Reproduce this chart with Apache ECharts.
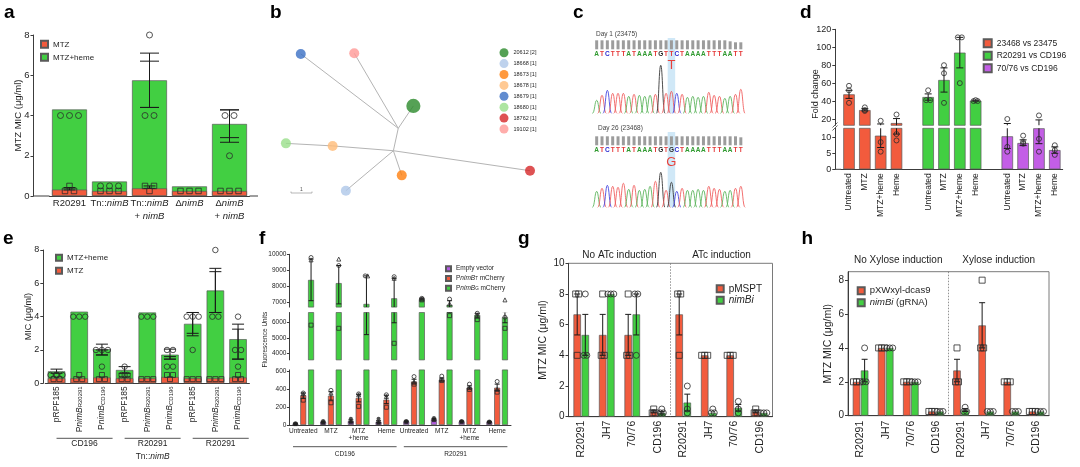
<!DOCTYPE html>
<html>
<head>
<meta charset="utf-8">
<script src="https://cdn.jsdelivr.net/npm/echarts@6.0.0/dist/echarts.min.js"></script>
<style>
html,body{margin:0;padding:0;background:#fff;}
#chart{width:1080px;height:467px;}
</style>
</head>
<body>
<div id="chart"></div>
<script>
// ===================== DATA =====================
// ---- panel a ----
const aCategories = ['R20291', 'Tn::nimB', 'Tn::nimB\n+ nimB', 'ΔnimB', 'ΔnimB\n+ nimB'];
const aMtzHeme = [4.3, 0.72, 5.75, 0.48, 3.58];
const aMtz = [0.32, 0.25, 0.38, 0.25, 0.25];
const aMtzHemePoints = [[4, 4, 4], [0.5, 0.5, 0.5], [8, 4, 4], [], [4, 4, 2]];
const aMtzPoints = [[0.5, 0.25, 0.25], [0.25, 0.25, 0.25], [0.5, 0.5, 0.25], [0.25, 0.25, 0.25], [0.25, 0.25, 0.25]];
const aMtzHemeErr = [null, null, [4.4, 7.1], null, [2.67, 4.28]];
const aMtzHemeErr2 = [null, null, [4.4, 6.7], null, [2.9, 4.28]];
const aMtzErr = [[0.3, 0.42], null, [0.38, 0.5], null, null];

// ---- panel b ----
const bNodes = ['20612 [2]', '18668 [1]', '18673 [1]', '18678 [1]', '18679 [1]', '18680 [1]', '18762 [1]', '19102 [1]'];
const bIsolates = [2, 1, 1, 1, 1, 1, 1, 1];
const bNodeX = [53.1, 28.1, 48.8, 23.2, 11.4, 5.9, 96.3, 31.2];
const bNodeY = [58.8, 5.8, 15.4, 33.8, 91.3, 35.4, 18.3, 91.7];
const bNodeColors = ['#2b8a2b', '#aec7e8', '#ff7f0e', '#ffbb78', '#3a6fc4', '#98df8a', '#d62728', '#ff9896'];
const bJunctions = ['J1', 'J2'];
const bJunctionX = [47.5, 45.7];
const bJunctionY = [44.8, 30.8];
const bEdges = [['18679 [1]', 'J1'], ['19102 [1]', 'J1'], ['20612 [2]', 'J1'], ['J1', 'J2'],
  ['18680 [1]', '18678 [1]'], ['18678 [1]', 'J2'], ['J2', '18762 [1]'], ['J2', '18673 [1]'], ['J2', '18668 [1]']];

// ---- panel c ----
const cSeqTop = 'ATCTTTATAAATGTTCTAAAATTTAATT';
const cSeqBottom = 'ATCTTTATAAATGTGCTAAAATTTAATT';
const cPeaksTop = [13, 18, 23, 20, 20, 20, 17, 19, 18, 17, 18, 19, 48, 20, 22, 20, 19, 16, 17, 16, 17, 21, 18, 17, 15, 17, 19, 24];
const cPeaksBottom = [16, 19, 22, 21, 20, 24, 18, 22, 17, 18, 21, 26, 35, 17, 25, 16, 19, 17, 17, 18, 17, 21, 19, 18, 16, 17, 19, 21];
const cQualTop = [9, 9, 9, 9, 9, 9, 9, 9, 9, 9, 9, 9, 9, 9, 9, 9, 9, 9, 9, 9, 9, 9, 9, 9, 9, 8, 7, 7];
const cQualBottom = [9, 9, 9, 9, 9, 9, 9, 9, 9, 9, 9, 9, 9, 9, 9, 9, 9, 9, 9, 9, 9, 9, 9, 9, 9, 9, 9, 8];
const cLabels = ['Day 1 (23475)', 'Day 26 (23468)'];

// ---- panel d ----
const dConditions = ['Untreated', 'MTZ', 'MTZ+heme', 'Heme'];
const dComparisons = ['23468 vs 23475', 'R20291 vs CD196', '70/76 vs CD196'];
const dValues = [[47.5, 30, 10.5, 15.5], [44.5, 63.5, 94, 40.5], [10.3, 8.2, 12.8, 6]];
const dPoints = [
  [[57, 52, 38], [33, 30, 29], [18, 8.5, 5.5], [25, 11, 9]],
  [[52, 41, 41], [80, 71, 38], [111, 111, 60], [41, 40, 40]],
  [[20, 7, 5.5], [10.5, 8.5, 8], [24, 9.5, 5.5], [7.5, 6, 4.5]]];
const dErr = [
  [[43, 52], [29, 31.5], [6.8, 14.5], [11, 20.5]],
  [[41, 48], [50, 77], [77, 111], [40, 41]],
  [[6.5, 15], [7.4, 9.2], [8, 19], [5, 7]]];

// ---- panel e ----
const eCategories = ['pRPF185', 'PnimB_R20291', 'PnimB_CD196', 'pRPF185', 'PnimB_R20291', 'PnimB_CD196', 'pRPF185', 'PnimB_R20291', 'PnimB_CD196'];
const eGroups = ['CD196', 'R20291\nTn::nimB', 'R20291'];
const eMtzHeme = [0.72, 4.3, 2.05, 0.8, 4.25, 1.72, 3.57, 5.57, 2.65];
const eMtz = [0.3, 0.3, 0.35, 0.3, 0.3, 0.38, 0.3, 0.3, 0.35];
const eMtzHemePoints = [[0.5, 0.5, 0.5], [4, 4, 4], [2, 2, 2, 1], [1, 0.5, 0.5], [4, 4, 4], [2, 2, 1, 1], [4, 4, 4, 2], [8, 4, 4], [4, 2, 2, 1]];
const eMtzPoints = [[0.5, 0.25, 0.25], [0.5, 0.25, 0.25], [0.5, 0.25, 0.25], [0.5, 0.25, 0.25], [0.25, 0.25, 0.25], [0.5, 0.5, 0.25], [0.25, 0.25, 0.25], [0.25, 0.25, 0.25], [0.5, 0.25, 0.25]];
const eMtzHemeErr = [[0.6, 0.85], null, [1.7, 2.35], [0.6, 1.0], null, [1.45, 2.05], [2.85, 4.25], [4.25, 6.9], [1.45, 3.55]];
const eMtzHemeErr2 = [null, null, [1.7, 2.0], null, null, [1.45, 1.6], [3.0, 4.25], [4.25, 6.7], [1.45, 3.25]];

// ---- panel f ----
const fCategories = ['Untreated', 'MTZ', 'MTZ\n+heme', 'Heme', 'Untreated', 'MTZ', 'MTZ\n+heme', 'Heme'];
const fGroups = ['CD196', 'R20291'];
const fSeriesNames = ['Empty vector', 'PnimBT', 'PnimBG'];
const fEmpty = [15, 35, 45, 35, 40, 65, 40, 35];
const fPnimBT = [335, 330, 305, 285, 490, 510, 420, 420];
const fPnimBG = [8400, 8200, 6900, 7250, 7200, 6850, 6450, 6300];
const fEmptyPoints = [[20, 15, 10], [45, 35, 25], [70, 45, 30], [70, 35, 25], [45, 40, 35], [80, 65, 55], [45, 40, 35], [40, 35, 30]];
const fPnimBTPoints = [[360, 350, 280], [390, 360, 250], [350, 340, 210], [340, 320, 200], [545, 480, 460], [550, 510, 500], [460, 420, 400], [490, 400, 370]];
const fPnimBGPoints = [[9800, 9650, 5800], [9300, 9700, 5600], [8650, 8650, 3500], [8600, 8500, 4650], [7250, 7200, 7150], [7200, 6900, 6400], [6550, 6450, 6150], [6300, 7150, 5600]];
const fEmptyErr = [[10, 20], [25, 42], [32, 58], [25, 48], [35, 45], [55, 75], [35, 45], [30, 40]];
const fPnimBTErr = [[300, 360], [280, 375], [260, 345], [240, 335], [470, 515], [495, 530], [405, 440], [390, 460]];
const fPnimBGErr = [[7100, 9700], [6900, 9300], [5200, 8650], [5950, 8500], [7150, 7250], [6600, 7100], [6250, 6550], [5950, 6650]];

// ---- panel g ----
const gCategories = ['R20291', 'JH7', '70/76', 'CD196', 'R20291', 'JH7', '70/76', 'CD196'];
const gHeaders = ['No ATc induction', 'ATc induction'];
const gPMSPT = [6.67, 5.33, 5.33, 0.33, 6.67, 4, 4, 0.33];
const gNimBi = [5.33, 8, 6.67, 0.25, 0.92, 0.25, 0.58, 0.25];
const gPMSPTPoints = [[8, 8, 4], [8, 4, 4], [8, 4, 4], [0.5, 0.25, 0.25], [8, 8, 4], [4, 4, 4], [4, 4, 4], [0.5, 0.25, 0.25]];
const gNimBiPoints = [[8, 4, 4], [8, 8, 8], [8, 8, 4], [0.5, 0.25, 0.25], [2, 0.5, 0.25], [0.5, 0.25, 0.25], [1, 0.5, 0.25], [0.25, 0.25, 0.25]];
const gPMSPTErr = [[5.33, 8], [4, 6.67], [4, 6.67], [0.25, 0.42], [5.33, 8], null, null, [0.25, 0.42]];
const gNimBiErr = [[4, 6.67], null, [5.33, 8], [0.17, 0.33], [0.37, 1.47], null, [0.36, 0.8], null];

// ---- panel h ----
const hCategories = ['R20291', 'JH7', '70/76', 'CD196', 'R20291', 'JH7', '70/76', 'CD196'];
const hHeaders = ['No Xylose induction', 'Xylose induction'];
const hDcas9 = [2, 4, 2, 0.25, 2.67, 5.33, 2, 0.25];
const hNimBi = [2.67, 4, 2, 0.25, 0.33, 0.25, 0.25, 0.25];
const hDcas9Points = [[2, 2, 2], [4, 4, 4], [2, 2, 2], [0.25, 0.25, 0.25], [4, 2, 2], [8, 4, 4], [2, 2, 2], [0.25, 0.25, 0.25]];
const hNimBiPoints = [[4, 2, 2], [4, 4, 4], [2, 2, 2], [0.25, 0.25, 0.25], [0.5, 0.25, 0.25], [0.25, 0.25, 0.25], [0.25, 0.25, 0.25], [0.25, 0.25, 0.25]];
const hDcas9Err = [null, null, null, null, [2, 3.33], [4, 6.67], null, null];
const hNimBiErr = [[2, 3.33], null, null, null, [0.25, 0.42], null, null, null];

// ===================== BUILD =====================
const FF = '"Liberation Sans", Arial, Helvetica, sans-serif';
const RED = '#f25b3d', GREEN = '#42cf42', PURPLE = '#c35ee6', FPURPLE = '#b25be0';
const AXC = '#3c3c3c', TXT = '#1e1e1e';

const option = {animation: false, backgroundColor: '#ffffff', textStyle: {fontFamily: FF},
  grid: [], xAxis: [], yAxis: [], series: [], legend: []};

function addGrid(rect, x, y) {
  const i = option.grid.length;
  option.grid.push(Object.assign({containLabel: false, outerBoundsMode: 'none'}, rect));
  x.gridIndex = i; y.gridIndex = i;
  option.xAxis.push(x); option.yAxis.push(y);
  return i;
}
function valueY(o) {
  const y = {type: 'value', min: o.min, max: o.max, offset: o.offset || 0, splitLine: {show: false},
    axisLine: {show: true, onZero: false, lineStyle: {color: AXC, width: 1}},
    axisTick: {show: true, length: o.tick || 3, lineStyle: {color: AXC, width: 1}},
    axisLabel: {fontSize: o.fs, color: TXT, margin: o.margin || 4, formatter: v => String(v)}};
  if (o.interval) y.interval = o.interval;
  if (o.ticks) { y.axisLabel.customValues = o.ticks; y.axisTick.customValues = o.ticks; }
  if (o.name) Object.assign(y, {name: o.name, nameLocation: 'middle', nameGap: o.nameGap, nameMoveOverlap: false,
    nameTextStyle: {fontSize: o.nameFs || o.fs, color: TXT}});
  return y;
}
function catX(data, o) {
  o = o || {};
  return {type: 'category', data, show: o.show !== false, boundaryGap: true,
    axisLine: {show: o.line !== false, onZero: false, lineStyle: {color: AXC, width: 1}},
    axisTick: {show: false}, splitLine: {show: false},
    axisLabel: Object.assign({interval: 0, color: TXT}, o.label || {})};
}
function hiddenValue(min, max) { return {type: 'value', min, max, show: false, splitLine: {show: false}}; }
function barS(gi, name, data, color, width, extra) {
  return Object.assign({type: 'bar', name, xAxisIndex: gi, yAxisIndex: gi, data, barWidth: width, silent: true,
    itemStyle: {color, borderColor: '#5a5a5a', borderWidth: 0.7}}, extra || {});
}
function errS(gi, errs, offset, cap) {
  const data = [];
  errs.forEach((e, i) => { if (e) data.push([i, e[0], e[1]]); });
  return {type: 'custom', xAxisIndex: gi, yAxisIndex: gi, data, clip: true, silent: true, z: 5,
    encode: {x: 0, y: [1, 2]},
    renderItem(params, api) {
      const lo = api.coord([api.value(0), api.value(1)]);
      const hi = api.coord([api.value(0), api.value(2)]);
      const x = lo[0] + offset, h = cap / 2;
      const st = {stroke: '#1a1a1a', lineWidth: 1};
      return {type: 'group', children: [
        {type: 'line', shape: {x1: x, y1: lo[1], x2: x, y2: hi[1]}, style: st},
        {type: 'line', shape: {x1: x - h, y1: lo[1], x2: x + h, y2: lo[1]}, style: st},
        {type: 'line', shape: {x1: x - h, y1: hi[1], x2: x + h, y2: hi[1]}, style: st}]};
    }};
}
function ptsS(gi, pts, symbols, size, offset, spread, itemStyle) {
  const data = [];
  pts.forEach((arr, i) => {
    if (!arr) return;
    const count = {}, seen = {};
    arr.forEach(v => { count[v] = (count[v] || 0) + 1; });
    arr.forEach((v, k) => {
      const j = seen[v] = (seen[v] || 0) + 1;
      const dx = offset + (j - 1 - (count[v] - 1) / 2) * spread;
      data.push({value: [i, v], symbol: symbols[k % symbols.length], symbolOffset: [dx, 0]});
    });
  });
  return {type: 'scatter', xAxisIndex: gi, yAxisIndex: gi, data, symbolSize: size, silent: true, clip: true, z: 6,
    itemStyle: itemStyle || {color: 'rgba(0,0,0,0)', borderColor: '#2a2a2a', borderWidth: 1}};
}
function legendC(names, o) {
  const l = {data: names, orient: 'vertical', left: o.left, top: o.top, padding: 0, itemGap: o.gap,
    itemWidth: o.w, itemHeight: o.h, icon: o.icon || 'rect', selectedMode: false,
    textStyle: {fontSize: o.fs, color: TXT, lineHeight: o.lh || o.h, rich: o.rich || {}}};
  if (o.formatter) l.formatter = o.formatter;
  option.legend.push(l);
}
function slots(vals, g, fill) {
  const a = new Array(14).fill(fill);
  vals.forEach((v, k) => { a[g * 5 + k] = v; });
  return a;
}

// ---------- a ----------
const gA = addGrid({left: 49.5, top: 35, width: 200, height: 161},
  catX(aCategories, {label: {fontSize: 9.5, lineHeight: 12.5, margin: 1.5,
    formatter: v => v.replace(/nimB/g, '{i|nimB}'),
    rich: {i: {fontStyle: 'italic', fontSize: 9.5, lineHeight: 12.5, color: TXT}}}}),
  valueY({min: 0, max: 8, interval: 2, fs: 9.5, offset: 16, margin: 4, name: 'MTZ MIC (μg/ml)', nameGap: 10.5}));
option.series.push(
  barS(gA, 'MTZ+heme', aMtzHeme, GREEN, 35, {barGap: '-100%'}),
  barS(gA, 'MTZ', aMtz, RED, 35, {barGap: '-100%'}),
  errS(gA, aMtzHemeErr, 0, 19), errS(gA, aMtzHemeErr2, 0, 19), errS(gA, aMtzErr, 0, 12),
  ptsS(gA, aMtzHemePoints, ['circle'], 6, 0, 9),
  ptsS(gA, aMtzPoints, ['rect'], 5.5, 0, 9));
legendC(['MTZ', 'MTZ+heme'], {left: 40, top: 39.8, gap: 4, w: 7, h: 7, fs: 8});

// ---------- b ----------
const gB = addGrid({left: 270, top: 40, width: 270, height: 160}, hiddenValue(0, 100), hiddenValue(0, 100));
const bPos = {};
bNodes.forEach((n, i) => { bPos[n] = [bNodeX[i], bNodeY[i]]; });
bJunctions.forEach((n, i) => { bPos[n] = [bJunctionX[i], bJunctionY[i]]; });
option.series.push({type: 'lines', coordinateSystem: 'cartesian2d', xAxisIndex: gB, yAxisIndex: gB, silent: true, z: 2,
  lineStyle: {color: '#b4b4b4', width: 1, opacity: 1},
  data: bEdges.map(e => ({coords: [bPos[e[0]], bPos[e[1]]]}))});
bNodes.forEach((n, i) => {
  option.series.push({type: 'scatter', name: n, xAxisIndex: gB, yAxisIndex: gB, silent: true, z: 4,
    data: [[bNodeX[i], bNodeY[i]]], symbolSize: 10 * Math.sqrt(bIsolates[i]), itemStyle: {color: bNodeColors[i]}});
});
legendC(bNodes, {left: 499.5, top: 48.2, gap: 1.9, w: 9, h: 9, fs: 5.5, icon: 'circle'});

// ---------- c ----------
const BASECOL = {A: '#5fb65f', C: '#4a4ae0', G: '#3a3a3a', T: '#f06060'};
const LETTERCOL = {A: '#2f9a2f', C: '#2a2ad0', G: '#262626', T: '#e53535'};
function chromPanel(top, seq, peaks, qual, qualBase, letterY) {
  const gi = addGrid({left: 594, top: top, width: 149.5, height: 75.3}, hiddenValue(-0.5, 27.5), hiddenValue(0, 75.3));
  option.series.push({type: 'custom', xAxisIndex: gi, yAxisIndex: gi, silent: true, z: 3,
    data: qual.map((q, i) => [i, q]), encode: {x: 0, y: 1},
    renderItem(params, api) {
      const i = api.value(0), q = api.value(1);
      const p0 = api.coord([i - 0.28, qualBase]), p1 = api.coord([i + 0.28, qualBase + q]);
      return {type: 'rect', shape: {x: p0[0], y: p1[1], width: p1[0] - p0[0], height: p0[1] - p1[1]}, style: {fill: '#9c9c9c'}};
    },
    markArea: {silent: true, itemStyle: {color: 'rgba(150,205,238,0.45)'},
      data: [[{xAxis: 13.3, yAxis: 0}, {xAxis: 14.7, yAxis: 75.3}]]}});
  option.series.push({type: 'custom', xAxisIndex: gi, yAxisIndex: gi, silent: true, z: 4,
    data: seq.split('').map((ch, i) => [i, letterY]), encode: {x: 0, y: 1},
    renderItem(params, api) {
      const i = api.value(0); const p = api.coord([i, api.value(1)]); const ch = seq[i];
      return {type: 'text', x: p[0], y: p[1], style: {text: ch, fill: LETTERCOL[ch], font: 'bold 6.5px ' + FF, align: 'center', verticalAlign: 'middle'}};
    }});
  option.series.push({type: 'custom', xAxisIndex: gi, yAxisIndex: gi, silent: true, z: 3,
    data: peaks.map((h, i) => [i, h, 'ACGT'.indexOf(seq[i])]), encode: {x: 0, y: 1},
    renderItem(params, api) {
      const i = api.value(0), h = api.value(1), b = 'ACGT'[api.value(2)];
      const a0 = api.coord([i - 0.8, 0]), pk = api.coord([i, h]), a1 = api.coord([i + 0.8, 0]);
      const w = pk[0] - a0[0];
      const st = {stroke: BASECOL[b], lineWidth: 0.9, fill: 'none'};
      return {type: 'group', children: [
        {type: 'bezierCurve', shape: {x1: a0[0], y1: a0[1], cpx1: a0[0] + w * 0.55, cpy1: a0[1], cpx2: pk[0] - w * 0.45, cpy2: pk[1], x2: pk[0], y2: pk[1]}, style: st},
        {type: 'bezierCurve', shape: {x1: pk[0], y1: pk[1], cpx1: pk[0] + w * 0.45, cpy1: pk[1], cpx2: a1[0] - w * 0.55, cpy2: a1[1], x2: a1[0], y2: a1[1]}, style: st}]};
    }});
  return gi;
}
const gCt = chromPanel(38, cSeqTop, cPeaksTop, cQualTop, 64, 59);
const gCb = chromPanel(132, cSeqBottom, cPeaksBottom, cQualBottom, 62, 57);

// ---------- d ----------
const dXCats = [];
dComparisons.forEach((c, g) => { if (g) dXCats.push(''); dXCats.push(...dConditions); });
const dColors = [RED, GREEN, PURPLE];
const gDu = addGrid({left: 841.1, top: 29.3, width: 221.6, height: 96}, catX(dXCats, {show: false}),
  valueY({min: 13, max: 120, ticks: [20, 40, 60, 80, 100, 120], fs: 9, offset: 5.8}));
const gDl = addGrid({left: 841.1, top: 128.3, width: 221.6, height: 41},
  catX(dXCats, {label: {rotate: 90, fontSize: 8.5, margin: 4}}),
  valueY({min: 0, max: 12.8, ticks: [0, 5, 10], fs: 9, offset: 5.8}));
[gDu, gDl].forEach(gi => {
  dComparisons.forEach((name, g) => {
    option.series.push(barS(gi, name, slots(dValues[g], g, null), dColors[g], 11.5, {barGap: '-100%'}));
  });
  dComparisons.forEach((name, g) => {
    option.series.push(errS(gi, slots(dErr[g], g, null), 0, 7));
    option.series.push(ptsS(gi, slots(dPoints[g], g, null), ['circle'], 5, 0, 4));
  });
});
legendC(dComparisons, {left: 982.7, top: 38.3, gap: 2.5, w: 8, h: 8, fs: 8.5});

// ---------- e ----------
const gE = addGrid({left: 45.2, top: 250, width: 204.2, height: 133.3},
  catX(eCategories, {label: {rotate: 90, fontSize: 8.5, margin: 3,
    formatter: v => v.indexOf('PnimB_') === 0 ? 'P{i|nimB}{s|' + v.slice(6) + '}' : v,
    rich: {i: {fontStyle: 'italic', fontSize: 8.5, color: TXT}, s: {fontSize: 6, color: TXT, verticalAlign: 'bottom'}}}}),
  valueY({min: 0, max: 8, interval: 2, fs: 9, offset: 1.9, margin: 4, name: 'MIC (μg/ml)', nameGap: 10.5}));
option.series.push(
  barS(gE, 'MTZ+heme', eMtzHeme, GREEN, 17.5, {barGap: '-100%'}),
  barS(gE, 'MTZ', eMtz, RED, 17.5, {barGap: '-100%'}),
  errS(gE, eMtzHemeErr, 0, 12), errS(gE, eMtzHemeErr2, 0, 12),
  ptsS(gE, eMtzHemePoints, ['circle'], 5.5, 0, 6),
  ptsS(gE, eMtzPoints, ['rect'], 5, 0, 6));
legendC(['MTZ+heme', 'MTZ'], {left: 55, top: 253.7, gap: 5, w: 6, h: 6, fs: 8});

// ---------- f ----------
const fVals = [fEmpty, fPnimBT, fPnimBG];
const fPts = [fEmptyPoints, fPnimBTPoints, fPnimBGPoints];
const fErrs = [fEmptyErr, fPnimBTErr, fPnimBGErr];
const fColors = [FPURPLE, RED, GREEN];
const fOffsets = [-7.8, 0, 7.8];
const gFu = addGrid({left: 289.4, top: 254.3, width: 221.6, height: 52.8}, catX(fCategories, {show: false}),
  valueY({min: 6700, max: 10000, ticks: [7000, 8000, 9000, 10000], fs: 6.5, margin: 3, tick: 2.5}));
const gFm = addGrid({left: 289.4, top: 312.5, width: 221.6, height: 47.4}, catX(fCategories, {show: false}),
  valueY({min: 3600, max: 6600, ticks: [4000, 5000, 6000], fs: 6.5, margin: 3, tick: 2.5}));
const gFl = addGrid({left: 289.4, top: 369.9, width: 221.6, height: 55.1},
  catX(fCategories, {label: {fontSize: 6.5, lineHeight: 6.5, margin: 3}}),
  valueY({min: 0, max: 620, ticks: [0, 200, 400, 600], fs: 6.5, margin: 3, tick: 2.5}));
[gFu, gFm, gFl].forEach(gi => {
  fSeriesNames.forEach((n, s) => option.series.push(barS(gi, n, fVals[s], fColors[s], 6, {barGap: '30%'})));
  fSeriesNames.forEach((n, s) => {
    option.series.push(errS(gi, fErrs[s], fOffsets[s], 5));
    option.series.push(ptsS(gi, fPts[s], ['circle', 'triangle', 'rect'], 4, fOffsets[s], 2.5,
      s === 0 ? {color: '#222'} : null));
  });
});
legendC(fSeriesNames, {left: 445, top: 265.2, gap: 2.8, w: 5, h: 5, fs: 6.5,
  formatter: n => n === 'Empty vector' ? n : 'P{i|nimB}{sup|' + n.slice(5) + '} mCherry',
  rich: {i: {fontStyle: 'italic', fontSize: 6.5, color: TXT, lineHeight: 5}, sup: {fontSize: 4.5, color: TXT, verticalAlign: 'top', lineHeight: 5}}});

// ---------- g ----------
const gG = addGrid({left: 568.5, top: 263.3, width: 204, height: 153.4, show: true, borderColor: '#7a7a7a', borderWidth: 1},
  catX(gCategories, {label: {rotate: 90, fontSize: 10.5, margin: 4}}),
  valueY({min: 0, max: 10, interval: 2, fs: 10, margin: 4, name: 'MTZ MIC (μg/ml)', nameGap: 20, nameFs: 10.5}));
option.series.push(
  barS(gG, 'pMSPT', gPMSPT, RED, 7.5, {barGap: '8%'}),
  barS(gG, 'nimBi', gNimBi, GREEN, 7.5, {barGap: '8%'}),
  errS(gG, gPMSPTErr, -4.05, 6), errS(gG, gNimBiErr, 4.05, 6),
  ptsS(gG, gPMSPTPoints, ['rect'], 6, -4.05, 3),
  ptsS(gG, gNimBiPoints, ['circle'], 6, 4.05, 3));
legendC(['pMSPT', 'nimBi'], {left: 715.7, top: 283.8, gap: 1.4, w: 7, h: 7, fs: 10,
  formatter: n => n === 'nimBi' ? '{i|nimBi}' : n,
  rich: {i: {fontStyle: 'italic', fontSize: 10, color: TXT, lineHeight: 7}}});

// ---------- h ----------
const gH = addGrid({left: 848, top: 271.7, width: 201, height: 144, show: true, borderColor: '#7a7a7a', borderWidth: 1},
  catX(hCategories, {label: {rotate: 90, fontSize: 10.5, margin: 5}}),
  valueY({min: 0, max: 8.5, ticks: [0, 2, 4, 6, 8], fs: 10, margin: 4, name: 'MTZ MIC (μg/ml)', nameGap: 14, nameFs: 10.5}));
option.series.push(
  barS(gH, 'pXWxyl-dcas9', hDcas9, RED, 7.5, {barGap: '8%'}),
  barS(gH, 'nimBi (gRNA)', hNimBi, GREEN, 7.5, {barGap: '8%'}),
  errS(gH, hDcas9Err, -4.05, 6), errS(gH, hNimBiErr, 4.05, 6),
  ptsS(gH, hDcas9Points, ['rect'], 6, -4.05, 3),
  ptsS(gH, hNimBiPoints, ['circle'], 6, 4.05, 3));
legendC(['pXWxyl-dcas9', 'nimBi (gRNA)'], {left: 856.7, top: 285.8, gap: 2, w: 7, h: 7, fs: 9.5,
  formatter: n => n.replace('nimBi', '{i|nimBi}'),
  rich: {i: {fontStyle: 'italic', fontSize: 9.5, color: TXT, lineHeight: 7}}});

// ===================== RENDER =====================
const chart = echarts.init(document.getElementById('chart'));
chart.setOption(option);

const P = (gi, v) => chart.convertToPixel({gridIndex: gi}, v);
const gfx = [];
function T(x, y, text, size, o) {
  o = o || {};
  const style = {text, font: (o.italic ? 'italic ' : '') + (o.bold ? 'bold ' : '') + size + 'px ' + FF,
    fill: o.color || TXT, align: o.align || 'center', verticalAlign: o.va || 'middle'};
  if (o.rich) style.rich = o.rich;
  gfx.push({type: 'text', x, y, rotation: o.rot || 0, silent: true, z: 50, style});
}
function L(x1, y1, x2, y2, o) {
  o = o || {};
  gfx.push({type: 'line', silent: true, z: 50, shape: {x1, y1, x2, y2},
    style: {stroke: o.color || AXC, lineWidth: o.w || 1, lineDash: o.dash || null}});
}
// panel letters
[['a', 4, 13], ['b', 270, 13], ['c', 573, 13], ['d', 800, 13], ['e', 3, 239], ['f', 259, 239], ['g', 518, 239], ['h', 801.5, 239]]
  .forEach(p => T(p[1], p[2], p[0], 19, {bold: true, align: 'left', color: '#000'}));
// a axis extension
L(33.3, 196, 49.5, 196); L(249.5, 196, 258, 196);
// b scale bar
L(291, 193, 312, 193, {color: '#999', w: 0.7}); L(291, 191.5, 291, 193, {color: '#999', w: 0.7}); L(312, 191.5, 312, 193, {color: '#999', w: 0.7});
T(301.5, 189.5, '1', 5, {color: '#555'});
// c labels
T(596, 34, cLabels[0], 6.5, {align: 'left', color: '#444'});
T(598, 128, cLabels[1], 6.5, {align: 'left', color: '#444'});
const pT = P(gCt, [14, 48.3]); T(pT[0], pT[1], cSeqTop[14], 13, {color: '#e8403a'});
const pG = P(gCb, [14, 44.8]); T(pG[0], pG[1], cSeqBottom[14], 13, {color: '#e8403a'});
// d
T(815.5, 94, 'Fold change', 9, {rot: Math.PI / 2});
L(835.3, 169.3, 841.1, 169.3);
L(832.5, 127.5, 837.5, 122.5, {w: 0.8}); L(832.5, 130.5, 837.5, 125.5, {w: 0.8});
// e group lines
(function () {
  const slot = P(gE, [1, 0])[0] - P(gE, [0, 0])[0];
  eGroups.forEach((name, g) => {
    const x1 = P(gE, [g * 3, 0])[0], x2 = P(gE, [g * 3 + 2, 0])[0] + 0.47 * slot;
    L(x1, 438.3, x2, 438.3, {color: '#555'});
    name.split('\n').forEach((line, k) => T((x1 + x2) / 2, 444 + k * 12.5, line.replace(/nimB/g, '{i|nimB}'), 8.5,
      {rich: {i: {fontStyle: 'italic', fontSize: 8.5, fontFamily: FF, fill: TXT}}}));
  });
})();
// f
T(265.5, 339.6, 'Fluorescence Units', 6.5, {rot: Math.PI / 2});
(function () {
  const slot = P(gFl, [1, 0])[0] - P(gFl, [0, 0])[0];
  fGroups.forEach((name, g) => {
    const x1 = P(gFl, [g * 4, 0])[0] - 0.37 * slot, x2 = P(gFl, [g * 4 + 3, 0])[0] + 0.37 * slot;
    L(x1, 446.7, x2, 446.7, {color: '#555'});
    T((x1 + x2) / 2, 454, name, 6.5);
  });
})();
// g / h dividers and headers
[[gG, 10, 255, gHeaders], [gH, 8.5, 260, hHeaders]].forEach(([gi, ymax, hy, heads]) => {
  const x0 = P(gi, [0, 0])[0], x3 = P(gi, [3, 0])[0], x4 = P(gi, [4, 0])[0], x7 = P(gi, [7, 0])[0];
  const xm = (x3 + x4) / 2;
  const yT = P(gi, [0, ymax])[1], yB = P(gi, [0, 0])[1];
  L(xm, yT, xm, yB, {color: '#777', dash: [1.5, 1.5], w: 0.8});
  T((x0 + x3) / 2, hy, heads[0], 10);
  T((x4 + x7) / 2, hy, heads[1], 10);
});
chart.setOption({graphic: {elements: gfx}});
</script>
</body>
</html>
